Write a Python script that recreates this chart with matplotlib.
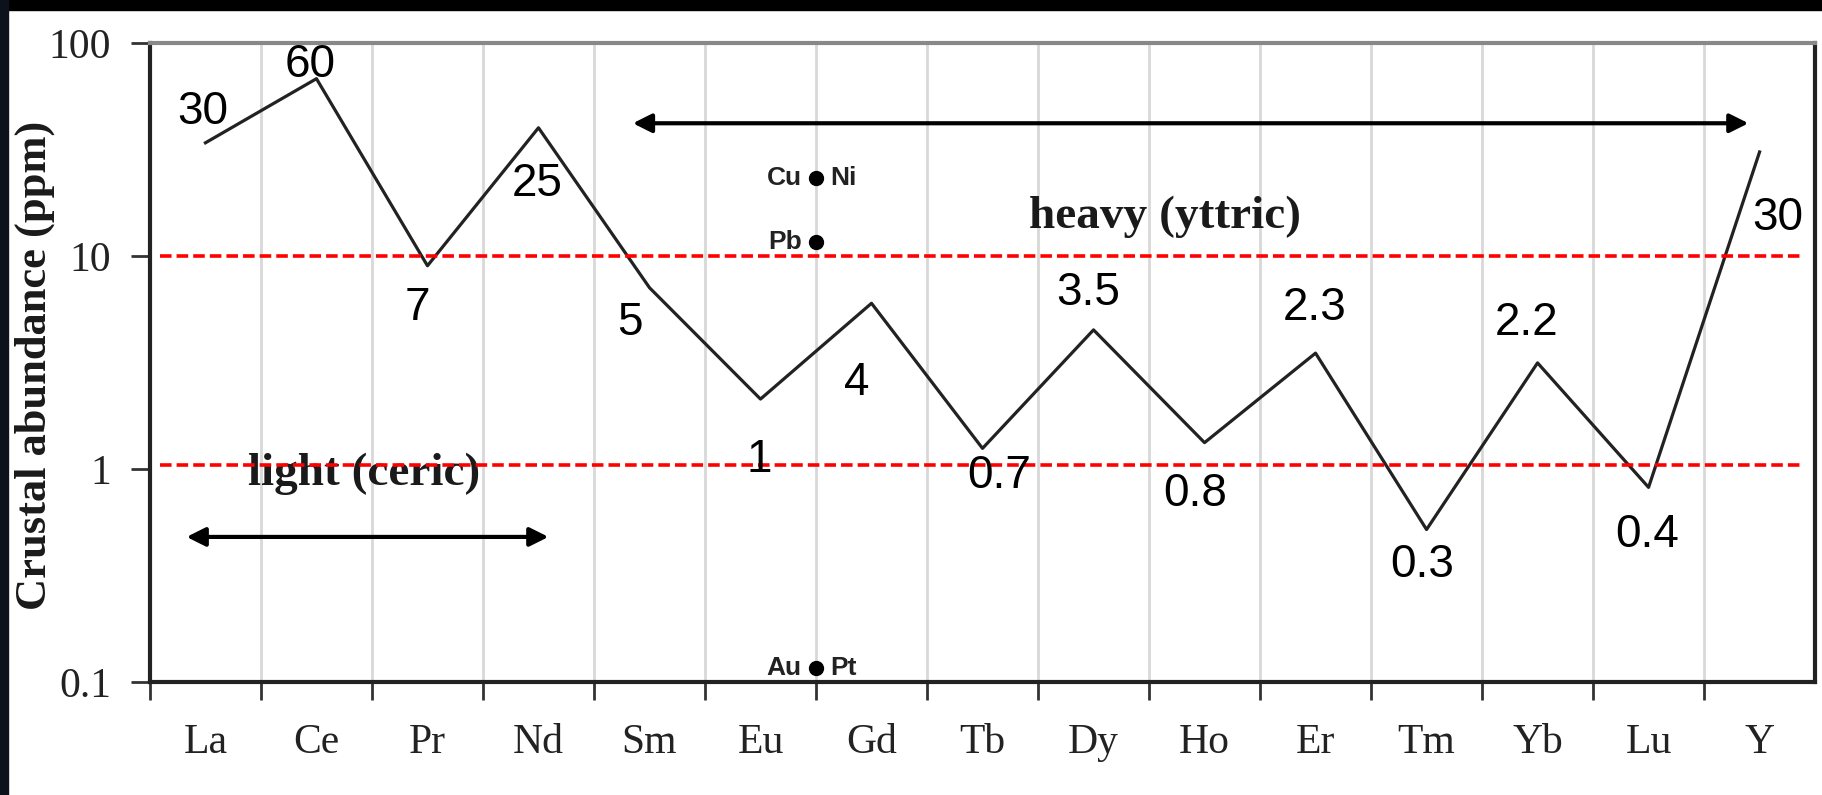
import numpy as np
import matplotlib
matplotlib.use('Agg')
import matplotlib.pyplot as plt
from matplotlib.patches import Rectangle

# Елементи та вміст у земній корі (ppm)
elements = ['La', 'Ce', 'Pr', 'Nd', 'Sm', 'Eu', 'Gd', 'Tb', 'Dy', 'Ho',
            'Er', 'Tm', 'Yb', 'Lu', 'Y']
abundance = [34, 68, 9.0, 40, 7.1, 2.13, 6.0, 1.25, 4.5, 1.33,
             3.5, 0.52, 3.15, 0.82, 30.8]

# Підписи значень і де їх ставити (x у категоріях, y у ppm)
value_labels = ['30', '60', '7', '25', '5', '1', '4', '0.7', '3.5', '0.8',
                '2.3', '0.3', '2.2', '0.4', '30']
label_x = [-0.02, 0.94, 1.91, 2.99, 3.82, 4.99, 5.87, 7.15, 7.95, 8.92,
           9.99, 10.96, 11.9, 12.99, 14.16]
label_y = [47.5, 79, 5.7, 21.8, 4.85, 1.10, 2.53, 0.93, 6.7, 0.76,
           5.7, 0.354, 4.85, 0.49, 15.1]

# Порівняльні метали
metal_left = ['Cu', 'Pb', 'Au']
metal_right = ['Ni', '', 'Pt']
metal_value = [23.2, 11.6, 0.117]
metal_x = 5.5

ref_levels = [10, 1.05]

fig = plt.figure(figsize=(18.22, 7.95), dpi=100)
ax = fig.add_axes([0.0823, 0.1421, 0.9139, 0.8038])

x = np.arange(len(elements))
ax.plot(x, abundance, color='#222222', lw=2.3, zorder=3)

for lv in ref_levels:
    ax.axhline(lv, xmin=0.006, xmax=0.993, color='red', lw=2.6,
               linestyle=(0, (3.2, 1.4)), zorder=4)

for t, lx, ly in zip(value_labels, label_x, label_y):
    ax.text(lx, ly, t, ha='center', va='center', fontsize=33,
            family='Liberation Sans', color='black', zorder=5)

for l, r, v in zip(metal_left, metal_right, metal_value):
    ax.plot(metal_x, v, 'o', color='black', ms=10, zorder=5)
    ax.text(metal_x - 0.13, v, l, ha='right', va='center', fontsize=19,
            fontweight='bold', family='Liberation Sans', color='#222222')
    if r:
        ax.text(metal_x + 0.13, v, r, ha='left', va='center', fontsize=19,
                fontweight='bold', family='Liberation Sans', color='#222222')

# Стрілки легких та важких РЗЕ
ax.annotate('', xy=(3.09, 0.48), xytext=(-0.17, 0.48),
            arrowprops=dict(arrowstyle='<|-|>', lw=3, color='black',
                            mutation_scale=28, shrinkA=0, shrinkB=0))
ax.annotate('', xy=(13.9, 42), xytext=(3.85, 42),
            arrowprops=dict(arrowstyle='<|-|>', lw=3, color='black',
                            mutation_scale=28, shrinkA=0, shrinkB=0))
ax.text(1.43, 0.95, 'light (ceric)', ha='center', va='center', fontsize=34,
        fontweight='bold', family='Liberation Serif', color='#1a1a1a')
ax.text(8.64, 15.2, 'heavy (yttric)', ha='center', va='center', fontsize=34,
        fontweight='bold', family='Liberation Serif', color='#1a1a1a')

ax.set_yscale('log')
ax.set_ylim(0.1, 100)
ax.set_xlim(-0.5, len(elements) - 0.5)
ax.set_yticks([0.1, 1, 10, 100])
ax.set_yticklabels(['0.1', '1', '10', '100'])
ax.yaxis.set_minor_locator(matplotlib.ticker.NullLocator())

ax.set_xticks(np.arange(-0.5, len(elements) - 1, 1))
ax.set_xticklabels([])
ax.set_xticks(x, minor=True)
ax.set_xticklabels(elements, minor=True)
ax.tick_params(axis='x', which='minor', length=0, pad=30, labelsize=30)
ax.tick_params(axis='x', which='major', length=13, width=2, color='#333333',
               direction='out')
ax.tick_params(axis='y', length=14, width=2, color='#333333', pad=14,
               labelsize=30)
for lab in ax.get_xticklabels(minor=True) + ax.get_yticklabels():
    lab.set_family('Liberation Serif')
    lab.set_color('#222222')

ax.grid(axis='x', which='major', color='#d8d8d8', lw=2, zorder=0)

for s in ['left', 'bottom', 'right']:
    ax.spines[s].set_color('#222222')
    ax.spines[s].set_linewidth(3)
ax.spines['top'].set_color('#888888')
ax.spines['top'].set_linewidth(3)

fig.text(0.019, 0.54, 'Crustal abundance (ppm)', rotation=90, ha='center',
         va='center', fontsize=32, fontweight='bold', family='Liberation Serif',
         color='#1a1a1a')

# Темні смуги по краях, як на скані
fig.patches.append(Rectangle((0, 1 - 10 / 795), 1, 10 / 795,
                             transform=fig.transFigure, color='black', zorder=10))
fig.patches.append(Rectangle((0, 0), 8 / 1822, 1,
                             transform=fig.transFigure, color='#0c111c', zorder=10))

fig.savefig('out.png', dpi=100)
